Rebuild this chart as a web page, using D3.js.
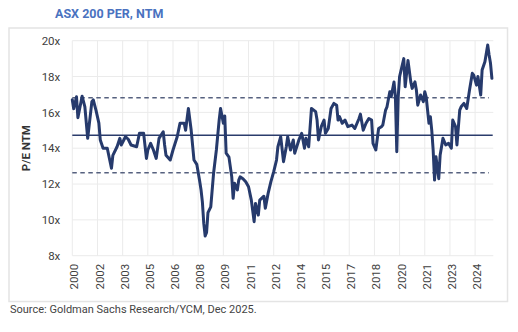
<!DOCTYPE html>
<html>
<head>
<meta charset="utf-8">
<script src="https://cdn.jsdelivr.net/npm/d3@7"></script>
<style>
  html, body { margin: 0; padding: 0; background: #fff; }
  svg { display: block; font-family: Roboto, "Liberation Sans", Arial, sans-serif; }
</style>
</head>
<body>
<svg id="chart" width="518" height="332"></svg>
<script>
// Months since Dec 2000 (category index) and forward P/E values
const monthOffset = [0,1,3,4,7,9,11,14,15,17,19,20,22,25,28,29,32,34,35,38,40,42,46,48,51,53,54,56,58,60,62,65,66,67,70,72,75,77,80,81,83,85,87,89,91,92,93,94,95,96,97,99,101,103,105,106,108,109,110,112,114,115,116,118,119,120,122,124,126,128,130,131,133,134,137,138,140,142,144,146,147,149,151,153,154,156,158,159,162,164,166,167,169,171,174,175,176,178,180,181,183,185,187,189,190,191,193,195,197,200,202,205,206,208,210,212,214,215,217,219,221,222,224,225,227,228,230,231,232,233,234,237,238,240,242,243,245,246,247,249,251,252,253,255,256,257,258,259,260,262,263,264,265,267,269,271,272,274,275,277,278,280,282,284,286,287,289,290,292,293,295,297,298,299,300];
const peNTM = [16.7,16.2,16.87,15.7,16.9,16.3,14.55,16.6,16.7,16.1,15.4,14.46,14.0,14.0,12.88,13.6,14.08,14.55,14.18,14.64,14.5,14.18,14.08,14.83,14.83,13.43,13.9,14.27,13.9,13.43,14.55,14.92,14.18,13.6,13.34,13.9,14.64,15.39,15.39,15.0,16.22,15.0,13.34,13.1,12.2,11.7,11.0,9.8,9.1,9.3,10.4,10.73,12.6,13.9,15.57,16.22,15.39,15.8,13.72,13.5,12.4,11.2,12.04,11.67,12.22,12.4,12.3,12.13,11.85,11.1,9.9,10.92,10.27,11.1,11.32,10.65,11.48,12.13,12.69,13.34,14.08,14.64,13.25,14.08,14.64,13.9,14.46,13.72,14.46,14.83,14.0,14.55,14.08,16.22,16.04,15.57,14.46,15.2,15.57,14.83,15.1,16.22,16.5,16.4,15.57,15.76,15.39,15.57,15.2,15.29,15.1,15.66,15.9,15.0,15.39,15.66,15.57,14.27,13.9,15.1,15.2,15.29,16.13,16.31,17.15,16.87,17.7,16.87,13.8,16.87,18.0,19.0,17.43,18.9,17.7,17.34,17.7,17.25,16.4,16.97,16.6,17.15,16.87,15.39,15.76,15.0,13.9,12.22,13.52,12.3,13.62,14.08,14.55,14.18,14.27,14.0,15.57,15.2,14.18,16.13,16.31,16.5,16.22,17.25,18.18,18.08,17.52,18.0,16.97,18.36,18.83,19.76,19.2,18.74,17.9];

const xTickLabels = ["2000","2002","2003","2005","2006","2008","2009","2011","2012","2014","2015","2017","2018","2020","2021","2023","2024"];
const xTickStep = 18; // one label every 18 monthly categories
const yTicks = [8,10,12,14,16,18,20];
const avgPE = 14.72;
const bandPE = [16.82, 12.63]; // +/- 1 s.d.

const svg = d3.select("#chart");

// frame
svg.append("rect").attr("x", 9).attr("y", 28).attr("width", 498.5).attr("height", 273.5)
  .attr("fill", "none").attr("stroke", "#e4e4e4").attr("stroke-width", 1.5);

// title
svg.append("text").attr("x", 55).attr("y", 17.5)
  .attr("font-size", 12.5).attr("font-weight", "bold").attr("fill", "#4a72bf")
  .text("ASX 200 PER, NTM");

const x = d3.scaleLinear().domain([0, 301]).range([72.3, 493.3]);
const y = d3.scaleLinear().domain([8, 20]).range([255.7, 40.7]);

// grid
const xTickVals = xTickLabels.map((d, i) => i * xTickStep);
svg.append("g").selectAll("line").data(yTicks).join("line")
  .attr("x1", x.range()[0]).attr("x2", x.range()[1])
  .attr("y1", d => y(d)).attr("y2", d => y(d))
  .attr("stroke", "#ebebeb").attr("stroke-width", 1);
svg.append("g").selectAll("line").data(xTickVals).join("line")
  .attr("x1", d => x(d)).attr("x2", d => x(d))
  .attr("y1", y(20)).attr("y2", y(8))
  .attr("stroke", "#ebebeb").attr("stroke-width", 1);

// y axis
const yAxis = svg.append("g").attr("transform", `translate(${x.range()[0]},0)`)
  .call(d3.axisLeft(y).tickValues(yTicks).tickFormat(d => d + "x").tickSize(0).tickPadding(12));
yAxis.select(".domain").remove();
yAxis.selectAll("text").attr("font-size", 11.5).attr("fill", "#404040")
  .attr("font-family", "Roboto, sans-serif");

// x axis
const xAxis = svg.append("g").attr("transform", `translate(0,${y(8)})`)
  .call(d3.axisBottom(x).tickValues(xTickVals).tickFormat((d, i) => xTickLabels[i]).tickSize(0));
xAxis.select(".domain").remove();
xAxis.selectAll("text")
  .attr("font-size", 11.5).attr("fill", "#404040").attr("font-family", "Roboto, sans-serif")
  .attr("transform", "rotate(-90)")
  .attr("text-anchor", "end")
  .attr("x", -8).attr("y", 1.5).attr("dy", "0.35em");

// y title
svg.append("text")
  .attr("transform", `translate(30,${(y(8) + y(20)) / 2}) rotate(-90)`)
  .attr("text-anchor", "middle").attr("font-size", 11.5).attr("font-weight", "bold").attr("fill", "#333")
  .text("P/E NTM");

// reference lines
svg.append("line").attr("x1", x.range()[0]).attr("x2", 492.7)
  .attr("y1", y(avgPE)).attr("y2", y(avgPE))
  .attr("stroke", "#2b3c6c").attr("stroke-width", 1.6);
svg.append("g").selectAll("line").data(bandPE).join("line")
  .attr("x1", x.range()[0]).attr("x2", 489)
  .attr("y1", d => y(d)).attr("y2", d => y(d))
  .attr("stroke", "#56617f").attr("stroke-width", 1.6).attr("stroke-dasharray", "4.5,3.5");

// series
const series = monthOffset.map((m, i) => [m, peNTM[i]]);
svg.append("path").datum(series)
  .attr("fill", "none").attr("stroke", "#263a6c").attr("stroke-width", 3)
  .attr("stroke-linejoin", "round").attr("stroke-linecap", "round")
  .attr("d", d3.line().x(d => x(d[0])).y(d => y(d[1])));

// source
svg.append("text").attr("x", 10).attr("y", 313)
  .attr("font-size", 11).attr("fill", "#444")
  .text("Source: Goldman Sachs Research/YCM, Dec 2025.");
</script>
</body>
</html>
